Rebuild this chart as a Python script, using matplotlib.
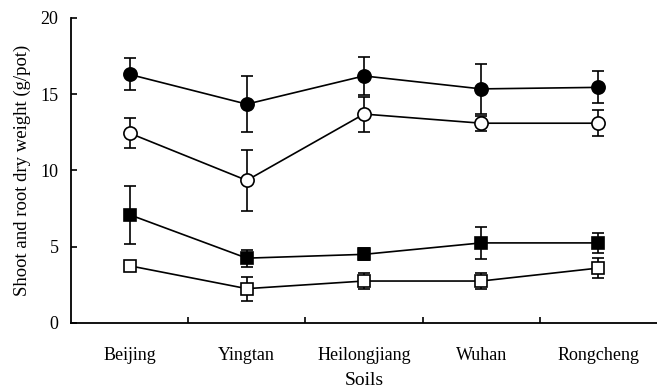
import matplotlib
matplotlib.use("Agg")
import matplotlib.pyplot as plt
from matplotlib.ticker import FixedLocator

soils = ["Beijing", "Yingtan", "Heilongjiang", "Wuhan", "Rongcheng"]

shoot_a = [16.3, 14.35, 16.2, 15.35, 15.45]
shoot_a_err = [1.05, 1.85, 1.25, 1.65, 1.05]
shoot_b = [12.45, 9.35, 13.7, 13.1, 13.1]
shoot_b_err = [1.0, 2.0, 1.15, 0.5, 0.85]
root_a = [7.1, 4.25, 4.5, 5.25, 5.25]
root_a_err = [1.9, 0.55, 0.4, 1.05, 0.65]
root_b = [3.75, 2.25, 2.75, 2.75, 3.6]
root_b_err = [0.2, 0.78, 0.5, 0.5, 0.65]

plt.rcParams['font.family'] = ['Liberation Serif', 'DejaVu Serif']

fig = plt.figure(figsize=(6.57, 3.91), dpi=100)
ax = fig.add_axes([0.108, 0.174, 0.892, 0.78])

x = list(range(1, len(soils) + 1))
series = [
    (shoot_a, shoot_a_err, 'o', 'black', 9.5),
    (shoot_b, shoot_b_err, 'o', 'white', 9.5),
    (root_a, root_a_err, 's', 'black', 8.5),
    (root_b, root_b_err, 's', 'white', 8.5),
]
for vals, errs, mk, fc, ms in series:
    ax.errorbar(x, vals, yerr=errs, fmt='-', marker=mk, color='black', mfc=fc,
                mec='black', mew=1.2, ms=ms, lw=1.2, elinewidth=1.2,
                capsize=4.5, capthick=1.2)

ax.set_xlim(0.5, 5.5)
ax.set_ylim(0, 20)
ax.set_yticks([0, 5, 10, 15, 20])
ax.set_xticks(x)
ax.set_xticklabels(soils)
ax.xaxis.set_minor_locator(FixedLocator([1.5, 2.5, 3.5, 4.5]))
ax.tick_params(axis='x', which='major', length=0, pad=17, labelsize=13)
ax.tick_params(axis='x', which='minor', direction='in', length=4.5, width=1.2)
ax.tick_params(axis='y', direction='in', length=4.5, width=1.2, pad=9, labelsize=13)
for s in ['top', 'right']:
    ax.spines[s].set_visible(False)
for s in ['left', 'bottom']:
    ax.spines[s].set_linewidth(1.3)

ax.set_xlabel("Soils", fontsize=14, labelpad=6)
ax.set_ylabel("Shoot and root dry weight (g/pot)", fontsize=13.5, labelpad=7)

fig.savefig("out.png", dpi=100)
